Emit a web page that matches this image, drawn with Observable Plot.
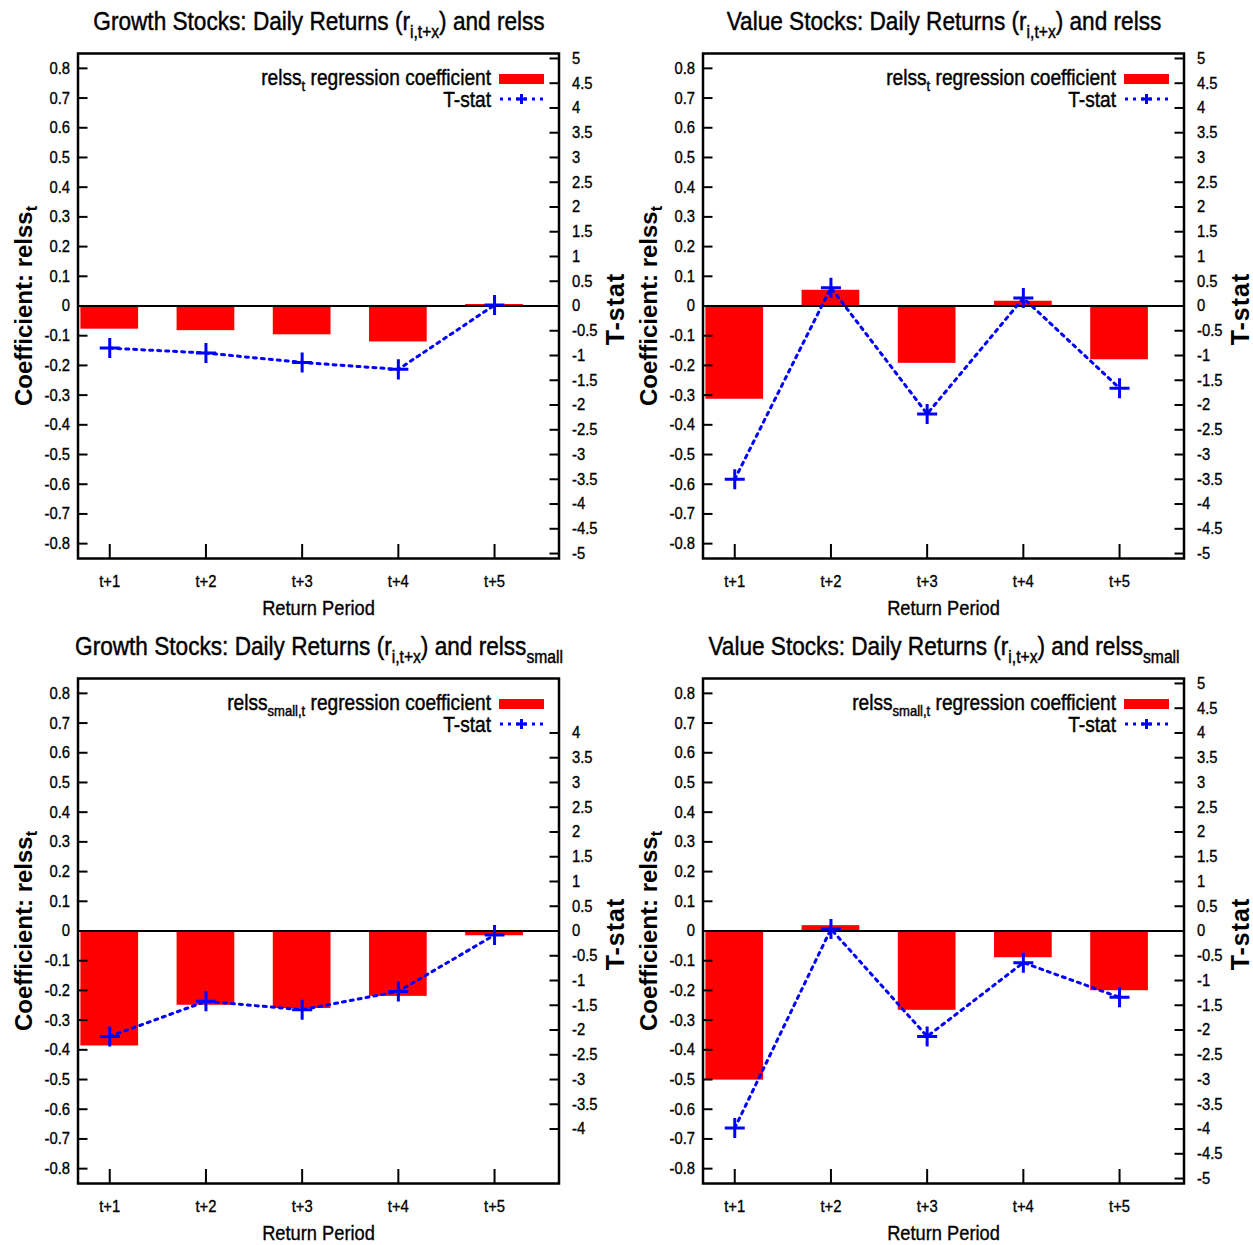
<!DOCTYPE html>
<html>
<head>
<meta charset="utf-8">
<script src="https://cdn.jsdelivr.net/npm/d3@7"></script>
<script src="https://cdn.jsdelivr.net/npm/@observablehq/plot@0.6"></script>
<style>
  html, body { margin: 0; padding: 0; background: #fff; }
  #root { position: relative; width: 1253px; height: 1245px; background: #fff; overflow: hidden; }
  .panel { position: absolute; width: 626px; height: 620px; }
</style>
</head>
<body>
<div id="root"></div>
<script>
// ---------- data ----------
const periods = ["t+1", "t+2", "t+3", "t+4", "t+5"];

const growthRelssCoef = [-0.078, -0.083, -0.097, -0.121, 0.005];
const growthRelssT    = [-0.85, -0.95, -1.14, -1.28, 0.02];

const valueRelssCoef  = [-0.314, 0.053, -0.193, 0.016, -0.181];
const valueRelssT     = [-3.50, 0.37, -2.18, 0.16, -1.66];

const growthSmallCoef = [-0.387, -0.250, -0.261, -0.220, -0.016];
const growthSmallT    = [-2.13, -1.42, -1.59, -1.22, -0.08];

const valueSmallCoef  = [-0.502, 0.018, -0.267, -0.090, -0.201];
const valueSmallT     = [-3.98, 0.04, -2.13, -0.64, -1.34];

const coefTicks = [-0.8, -0.7, -0.6, -0.5, -0.4, -0.3, -0.2, -0.1, 0, 0.1, 0.2, 0.3, 0.4, 0.5, 0.6, 0.7, 0.8];
const tstatTicks5 = [-5, -4.5, -4, -3.5, -3, -2.5, -2, -1.5, -1, -0.5, 0, 0.5, 1, 1.5, 2, 2.5, 3, 3.5, 4, 4.5, 5];
const tstatTicks4 = [-4, -3.5, -3, -2.5, -2, -1.5, -1, -0.5, 0, 0.5, 1, 1.5, 2, 2.5, 3, 3.5, 4];

const tRatio = 6; // right axis (T-stat) range ±5.1 vs left axis ±0.85

// ---------- helpers ----------
const SANS = '"Liberation Sans", Arial, Helvetica, sans-serif';
const NARROW_K = 0.87; // horizontal condensing (Arial Narrow look)

const fmtCoef = d => { const v = Math.round(d * 10) / 10; return v === 0 ? "0" : v.toFixed(1); };
const fmtT = d => { const v = Math.round(d * tRatio * 10) / 10; return v === 0 ? "0" : String(v); };

function richText(sel, parts, mainSize, subSize, shift) {
  parts.forEach((p, i) => {
    const prevSub = i > 0 && parts[i - 1].sub;
    const ts = sel.append("tspan").text(p.t);
    if (p.sub) { ts.attr("font-size", subSize).attr("dy", shift); }
    else { ts.attr("font-size", mainSize); if (prevSub) ts.attr("dy", -shift); }
  });
}

// a condensed text group anchored at x
function narrowGroup(s, x) {
  return s.append("g")
    .attr("transform", `translate(${x},0) scale(${NARROW_K},1) translate(${-x},0)`)
    .attr("font-family", SANS).attr("fill", "black")
    .attr("stroke", "black").attr("stroke-width", 0.45);
}

function panel(cfg, left, top) {
  const rows = periods.map((p, i) => ({period: p, coef: cfg.coef[i], t: cfg.tstat[i]}));
  const rTicks = cfg.rightTicks.map(t => t / tRatio);
  const svg = Plot.plot({
    width: 626, height: 620,
    marginTop: 53, marginBottom: 62, marginLeft: 77.5, marginRight: 67.5,
    x: {type: "band", domain: periods, paddingInner: 0.4, paddingOuter: 0.2, align: 0.075, round: false, axis: null},
    y: {domain: [-0.85, 0.85], axis: null},
    style: {fontFamily: SANS, fontSize: "17px", color: "black", background: "white", overflow: "visible"},
    marks: [
      Plot.barY(rows, {x: "period", y1: 0, y2: "coef", fill: "#ff0000"}),
      Plot.ruleY([0], {stroke: "black", strokeWidth: 2}),
      Plot.line(rows, {x: "period", y: d => d.t / tRatio, stroke: "#0000ff", strokeWidth: 3, strokeDasharray: "3,5"}),
      Plot.dot(rows, {x: "period", y: d => d.t / tRatio, symbol: "plus", r: 6.5, stroke: "#0000ff", strokeWidth: 3}),
      Plot.axisY(coefTicks, {anchor: "left", tickSize: 0, tickPadding: 8, tickFormat: fmtCoef, label: null}),
      Plot.axisY(coefTicks, {anchor: "left", tickSize: 10, dx: 10, fill: "none", label: null, strokeWidth: 2}),
      Plot.axisY(rTicks, {anchor: "right", tickSize: 0, tickPadding: 13, tickFormat: fmtT, label: null}),
      Plot.axisY(rTicks, {anchor: "right", tickSize: 10, dx: -10, fill: "none", label: null, strokeWidth: 2}),
      Plot.axisX(periods, {anchor: "bottom", tickSize: 0, tickPadding: 16, label: null}),
      Plot.axisX(periods, {anchor: "bottom", tickSize: 14, dy: -14, fill: "none", label: null, strokeWidth: 2}),
      Plot.text(["Return Period"], {frameAnchor: "bottom", dy: 56, fontSize: 21}),
      Plot.frame({stroke: "black", strokeWidth: 2.5})
    ]
  });

  const div = document.createElement("div");
  div.className = "panel";
  div.style.left = left + "px";
  div.style.top = top + "px";
  div.appendChild(svg);
  document.getElementById("root").appendChild(div);

  const s = d3.select(svg);
  // condense Plot's own texts (tick labels, axis title)
  s.selectAll("text").each(function () {
    const len = this.getComputedTextLength();
    if (len > 0) {
      this.setAttribute("textLength", (len * NARROW_K).toFixed(2));
      this.setAttribute("lengthAdjust", "spacingAndGlyphs");
      this.setAttribute("stroke", "black");
      this.setAttribute("stroke-width", "0.35");
    }
  });

  // title
  const title = narrowGroup(s, 319).append("text").attr("x", 319).attr("y", 30).attr("text-anchor", "middle");
  richText(title, cfg.title, 26, 18, 8);

  // legend
  const lg = narrowGroup(s, 491);
  const l1 = lg.append("text").attr("x", 491).attr("y", 85).attr("text-anchor", "end");
  richText(l1, cfg.legend, 22, 15, 6);
  lg.append("text").attr("x", 491).attr("y", 107).attr("text-anchor", "end").attr("font-size", 22).text("T-stat");
  s.append("rect").attr("x", 499).attr("y", 74).attr("width", 45).attr("height", 10).attr("fill", "#ff0000");
  s.append("line").attr("x1", 500).attr("x2", 545).attr("y1", 99).attr("y2", 99)
    .attr("stroke", "#0000ff").attr("stroke-width", 3).attr("stroke-dasharray", "3,5");
  s.append("path").attr("d", "M516.5,99H526.5M521.5,94V104").attr("stroke", "#0000ff").attr("stroke-width", 3).attr("fill", "none");

  // y-axis labels (bold, normal width)
  const yl = s.append("text").attr("transform", "translate(32,306) rotate(-90)").attr("text-anchor", "middle")
    .attr("font-family", SANS).attr("font-weight", "bold").attr("fill", "black");
  richText(yl, [{t: "Coefficient: relss"}, {t: "t", sub: true}], 24, 16, 5);
  s.append("text").attr("transform", "translate(624,309) rotate(-90)").attr("text-anchor", "middle")
    .attr("font-family", SANS).attr("font-weight", "bold").attr("font-size", 25).attr("letter-spacing", 1).attr("fill", "black").text("T-stat");
}

const tParts = (kind, small) => [
  {t: kind + " Stocks: Daily Returns (r"}, {t: "i,t+x", sub: true},
  {t: ") and relss"}, ...(small ? [{t: "small", sub: true}] : [])
];

panel({title: tParts("Growth", false), legend: [{t: "relss"}, {t: "t", sub: true}, {t: " regression coefficient"}],
  coef: growthRelssCoef, tstat: growthRelssT, rightTicks: tstatTicks5}, 0, 0);
panel({title: tParts("Value", false), legend: [{t: "relss"}, {t: "t", sub: true}, {t: " regression coefficient"}],
  coef: valueRelssCoef, tstat: valueRelssT, rightTicks: tstatTicks5}, 625, 0);
panel({title: tParts("Growth", true), legend: [{t: "relss"}, {t: "small,t", sub: true}, {t: " regression coefficient"}],
  coef: growthSmallCoef, tstat: growthSmallT, rightTicks: tstatTicks4}, 0, 625);
panel({title: tParts("Value", true), legend: [{t: "relss"}, {t: "small,t", sub: true}, {t: " regression coefficient"}],
  coef: valueSmallCoef, tstat: valueSmallT, rightTicks: tstatTicks5}, 625, 625);
</script>
</body>
</html>
